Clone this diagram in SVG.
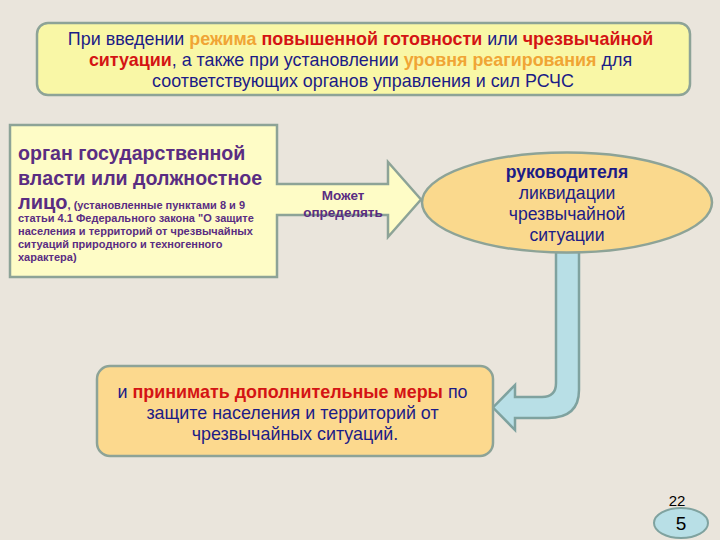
<svg xmlns="http://www.w3.org/2000/svg" width="720" height="540" viewBox="0 0 720 540">
<style>
  .t { font-family: "Liberation Sans", Arial, sans-serif; }
  .blue { fill: #1C1C86; }
  .org { fill: #F0A535; font-weight: bold; }
  .red { fill: #D41414; font-weight: bold; }
  .pur { fill: #5A2D82; font-weight: bold; }
  .edge { stroke: #8DA397; stroke-width: 2.5; }
</style>
<rect width="720" height="540" fill="#EAE5DC"/>
<g id="top-box">
  <rect x="37" y="23" width="653" height="72" rx="11" fill="#F9F7A6" class="edge"/>
  <text class="t" font-size="17.9" text-anchor="middle">
    <tspan x="363" y="45" class="blue">При введении <tspan class="org">режима</tspan> <tspan class="red">повышенной готовности</tspan> или <tspan class="red">чрезвычайной</tspan></tspan>
    <tspan x="363" y="66"><tspan class="red">ситуации</tspan><tspan class="blue">, а также при установлении </tspan><tspan class="org">уровня реагирования</tspan><tspan class="blue"> для</tspan></tspan>
    <tspan x="363" y="87" class="blue">соответствующих органов управления и сил РСЧС</tspan>
  </text>
</g>
<g id="authority-callout">
  <path d="M10,125 H277 V184 H388 V162 L421,199.5 L388,237 V215 H277 V277 H10 Z" fill="#FEFCC6" class="edge" stroke-linejoin="miter"/>
  <text class="t pur" font-size="19.6" x="18" y="160">орган государственной</text>
  <text class="t pur" font-size="19.6" x="18" y="185">власти или должностное</text>
  <text class="t pur" font-size="11"><tspan x="18" y="209"><tspan font-size="20">лицо</tspan>, (установленные пунктами 8 и 9</tspan><tspan x="18" y="222">статьи 4.1 Федерального закона "О защите</tspan><tspan x="18" y="235">населения и территорий от чрезвычайных</tspan><tspan x="18" y="248">ситуаций природного и техногенного</tspan><tspan x="18" y="261">характера)</tspan></text>
  <text class="t pur" font-size="13.5" text-anchor="middle"><tspan x="343" y="200">Может</tspan><tspan x="343" y="217">определять</tspan></text>
</g>
<g id="connectors">
  <path d="M556,252 V383 Q556,397 542,397 H515 V385 L493,407.5 L515,430 V418 H548 Q579,418 579,390 V252 Z" fill="#B8DFE6" stroke="#7FA29F" stroke-width="2.5" stroke-linejoin="miter"/>
</g>
<g id="leader-ellipse">
  <ellipse cx="567" cy="202.5" rx="145" ry="50" fill="#FAD98D" class="edge"/>
  <text class="t blue" font-size="17.6" text-anchor="middle"><tspan x="567" y="178" font-weight="bold">руководителя</tspan><tspan x="567" y="199">ликвидации</tspan><tspan x="567" y="220">чрезвычайной</tspan><tspan x="567" y="241">ситуации</tspan></text>
</g>
<g id="measures-box">
  <rect x="97" y="366" width="396" height="90" rx="13" fill="#FCD98E" class="edge"/>
  <text class="t" font-size="17.9" text-anchor="middle">
    <tspan x="295" y="398" class="blue">и <tspan class="red">принимать дополнительные меры</tspan> по</tspan>
    <tspan x="295" y="419" class="blue">защите населения и территорий от</tspan>
    <tspan x="295" y="440" class="blue">чрезвычайных ситуаций.</tspan>
  </text>
</g>
<g id="page-number">
  <text class="t" font-size="15" x="677" y="506" text-anchor="middle" fill="#000">22</text>
  <ellipse cx="681" cy="523" rx="27" ry="15" fill="#B8DFE6" stroke="#7FA29F" stroke-width="2"/>
  <text class="t" font-size="19" x="681" y="530" text-anchor="middle" fill="#000">5</text>
</g>
</svg>
